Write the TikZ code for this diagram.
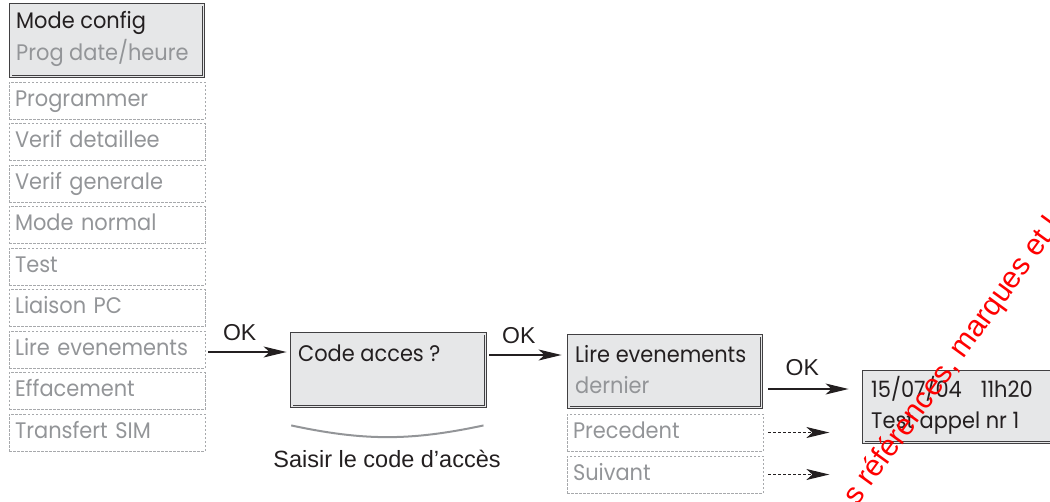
\documentclass[tikz,border=0pt]{standalone}
\usepackage{fontspec}
\usepackage{xcolor}
\usetikzlibrary{arrows.meta,positioning}
\setmainfont[FakeStretch=0.93]{Poppins}
\newfontfamily\arialfont{Liberation Sans}
\definecolor{lcdfill}{HTML}{E6E7E8}
\definecolor{lcdline}{HTML}{414042}
\definecolor{dimtext}{HTML}{939598}
\definecolor{darktext}{HTML}{231F20}
\definecolor{dashline}{HTML}{A7A9AC}

\begin{document}
\begin{tikzpicture}[x=1pt, y=-1pt,
  lcdbox/.style={draw=lcdline, line width=0.9pt, double=lcdfill, double distance=1.6pt,
    fill=lcdfill, minimum width=192.6pt, inner sep=0pt},
  menubox/.style={draw=dashline, dash pattern=on 2.5pt off 1.5pt, line width=0.7pt,
    minimum width=196pt, minimum height=37pt, inner xsep=6pt, inner ysep=0pt,
    text width=184pt, align=left, text height=16pt, text depth=5pt,
    font=\fontsize{22.5}{24}\selectfont, text=dimtext},
  lcdtext/.style={anchor=base west, inner sep=0pt, font=\fontsize{22.5}{24}\selectfont, text=darktext},
  lcddim/.style={lcdtext, text=dimtext},
  oklabel/.style={font=\arialfont\fontsize{23}{25}\selectfont, text=darktext, inner sep=0pt},
  okarrow/.style={-{Stealth[length=23pt, width=11pt, inset=6pt]}, line width=1.2pt, darktext},
  pagearrow/.style={okarrow, dash pattern=on 3pt off 2pt},
  accessarc/.style={line width=2pt, dimtext},
  watermark/.style={font=\arialfont\fontsize{30}{32}\selectfont, text=red, inner sep=0pt},
]
\useasboundingbox (0,0) rectangle (1050,501);
\clip (0,0) rectangle (1050,501);

% ── Menu (left column) ───────────────────────────────────────────────────────
\node[lcdbox, minimum height=71.6pt] (mcfg) at (107,40.5) {};
\node[lcdtext] (mcfgA) at (16,28) {Mode config};
\node[lcddim]  (mcfgB) at (16,60) {Prog date/heure};
\node[menubox] (mprog) at (107,100.5) {Programmer};
\node[menubox] (mvdet) at (107,142)   {Verif detaillee};
\node[menubox] (mvgen) at (107,183.5) {Verif generale};
\node[menubox] (mnorm) at (107,225)   {Mode normal};
\node[menubox] (mtest) at (107,266.5) {Test};
\node[menubox] (mlpc)  at (107,308)   {Liaison PC};
\node[menubox] (mlire) at (107,349.5) {Lire evenements};
\node[menubox] (meff)  at (107,391)   {Effacement};
\node[menubox] (msim)  at (107,432.5) {Transfert SIM};

% ── Access code ──────────────────────────────────────────────────────────────
\node[lcdbox, minimum width=193.6pt, minimum height=72.6pt] (code) at (388.5,370) {};
\node[lcdtext] (codeA) at (298,361) {Code acces ?};
\draw[accessarc] ([shift={(0,18.7)}]code.south west) to[bend right=12]
  ([shift={(-2.3,18.7)}]code.south east);
\node[oklabel, font=\arialfont\fontsize{23.5}{26}\selectfont, anchor=base] (saisir)
  at ([shift={(-1.5,60.7)}]code.south) {Saisir le code d’accès};

% ── Event list ───────────────────────────────────────────────────────────────
\node[lcdbox, minimum height=71.6pt] (lireb) at (665,371.5) {};
\node[lcdtext] (lireA) at (575,362) {Lire evenements};
\node[lcddim]  (lireB) at (575,393) {dernier};
\node[menubox] (prec) at (665,432.5) {Precedent};
\node[menubox] (suiv) at (665,474.5) {Suivant};

% ── Event display (cut at the right edge) ────────────────────────────────────
\node[lcdbox, minimum height=70.6pt] (event) at (960,407) {};
\node[lcdtext] (eventA) at (871,397) {15/07/04\hspace{19pt}11h20};
\node[lcdtext] (eventB) at (871,428) {Test appel nr 1};

% ── Arrows ───────────────────────────────────────────────────────────────────
\draw[okarrow, shorten <=3pt, shorten >=4.7pt]
  ([yshift=-2.5pt]mlire.east) -- ([yshift=-2.5pt]mlire.east -| code.west)
  node[oklabel, pos=0.4, above=11pt] {OK};
\draw[okarrow, shorten <=3.7pt, shorten >=6.7pt]
  ([yshift=15pt]code.east) -- ([yshift=15pt]code.east -| lireb.west)
  node[oklabel, pos=0.4, above=11pt] {OK};
\draw[okarrow, shorten <=6.7pt, shorten >=14.7pt]
  ([yshift=-17.5pt]lireb.east) -- ([yshift=-17.5pt]lireb.east -| event.west)
  node[oklabel, pos=0.4, above=13pt] {OK};
\coordinate (precend) at ([xshift=66pt]prec.east);
\coordinate (suivend) at ([xshift=66pt]suiv.east);
\draw[pagearrow, shorten <=5pt] (prec.east) -- (precend);
\draw[pagearrow, shorten <=5pt] (suiv.east) -- (suivend);

% ── Watermark ────────────────────────────────────────────────────────────────
\node[watermark, rotate=54, anchor=base west] (wmark) at (857,507) {s références, marques et lo};

\end{tikzpicture}
\end{document}
